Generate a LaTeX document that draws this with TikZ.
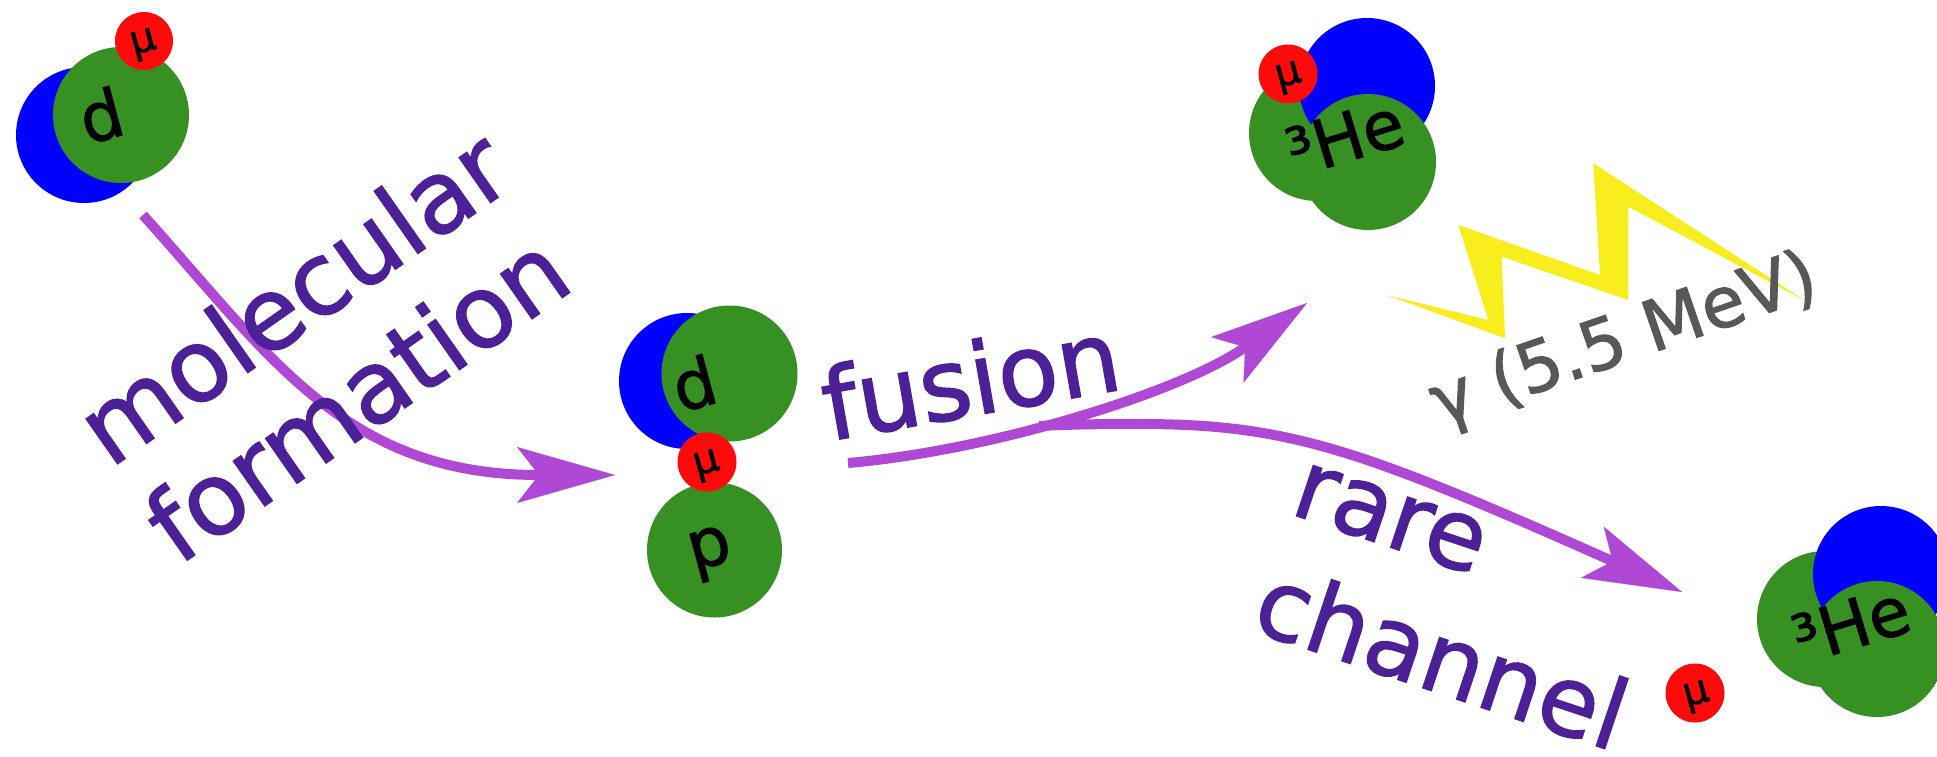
\documentclass[tikz,border=0pt]{standalone}
\usepackage{fontspec}
\setmainfont{DejaVu Sans}[FakeBold=1.5]
\usetikzlibrary{arrows.meta}
\definecolor{nucblue}{RGB}{0,0,255}
\definecolor{nucgreen}{RGB}{54,145,34}
\definecolor{muonred}{RGB}{254,10,10}
\definecolor{flowpurple}{RGB}{176,72,214}
\definecolor{labelpurple}{RGB}{76,32,150}
\definecolor{gammagray}{RGB}{88,88,88}
\definecolor{boltyellow}{RGB}{248,238,30}
\begin{document}
\begin{tikzpicture}[x=1pt,y=-1pt,
  proton/.style={fill=nucgreen},
  neutron/.style={fill=nucblue},
  muon/.style={fill=muonred},
  particle/.style={inner sep=0pt, rotate=15, font=\fontsize{67}{67}\selectfont},
  mulabel/.style={inner sep=0pt, rotate=15, font=\fontsize{40}{40}\selectfont},
  flow/.style={draw=flowpurple, line width=10pt,
    -{Stealth[length=98pt,width=56pt,inset=22pt,line width=0.1pt]}},
  caption/.style={inner sep=0pt, text=labelpurple, anchor=base west},
]
\useasboundingbox (0,0) rectangle (1937,756);

% deuteron with a bound muon (muonic deuterium)
\fill[neutron] (84,135) circle[radius=68];
\fill[proton] (121,115) circle[radius=68];
\fill[muon] (144,41) circle[radius=29];
\node[particle] (dA) at (101,115) {d};
\node[mulabel] (muA) at (144,45) {μ};

% p-mu-d molecule
\fill[neutron] (687,381) circle[radius=68];
\fill[proton] (729.5,373.5) circle[radius=68];
\fill[proton] (714.5,550) circle[radius=67.5];
\fill[muon] (707,462) circle[radius=29.5];
\node[particle] (dB) at (694,383) {d};
\node[mulabel] (muB) at (707,466) {μ};
\node[particle] (pB) at (711,554) {p};

% muonic helium-3
\fill[proton] (1317,133) circle[radius=68];
\fill[neutron] (1367,86) circle[radius=68];
\fill[proton] (1368,162) circle[radius=68];
\fill[muon] (1288,74) circle[radius=29.5];
\node[particle, rotate=2] (heC) at (1345,137) {³He};
\node[mulabel] (muC) at (1289,78) {μ};

% free helium-3 and free muon
\fill[proton] (1825,619) circle[radius=68];
\fill[neutron] (1881,574) circle[radius=68];
\fill[proton] (1877,649) circle[radius=68];
\node[particle, rotate=2] (heD) at (1851,624) {³He};
\fill[muon] (1695,693) circle[radius=29.5];
\node[mulabel] (muD) at (1697,697) {μ};

% gamma flash
\fill[boltyellow] (1386.7,295) -- (1488.3,320) -- (1458.3,225) -- (1600,275)
  -- (1593.3,163.3) -- (1806.7,301.7) -- (1628.3,206.7) -- (1628.3,300)
  -- (1501.7,256.7) -- (1505,338.3) -- cycle;

% reaction arrows
\coordinate (molStart) at (143,215);
\coordinate (molTip) at (615,475);
\coordinate (fusStart) at (848,463);
\coordinate (fusTip) at (1307,303);
\coordinate (rareStart) at (1039,426);
\coordinate (rareTip) at (1682,592);
\draw[flow] (molStart) .. controls (270,356) and (345,475) .. (molTip);
\draw[flow] (rareStart) .. controls (1080,424) and (1110,424) .. (1140,424)
  .. controls (1290,424) and (1362,450) .. (rareTip);
\draw[flow] (fusStart) .. controls (997,450) and (1185,390) .. (fusTip);

% captions
\node[caption, rotate=35, font=\fontsize{100}{119}\selectfont] (lblMol) at (110,469)
  {\vtop{\hbox{molecular}\hbox{formation}}};
\node[caption, rotate=10, font=\fontsize{99}{112}\selectfont] (lblFus) at (829,441) {fusion};
\node[caption, rotate=-18.5, font=\fontsize{97}{123}\selectfont] (lblRare) at (1288,513)
  {\vtop{\hbox{rare}\hbox{channel}}};
\node[caption, text=gammagray, rotate=19, font=\fontsize{70}{70}\selectfont] (lblGamma)
  at (1440,426) {γ (5.5 MeV)};
\end{tikzpicture}
\end{document}
